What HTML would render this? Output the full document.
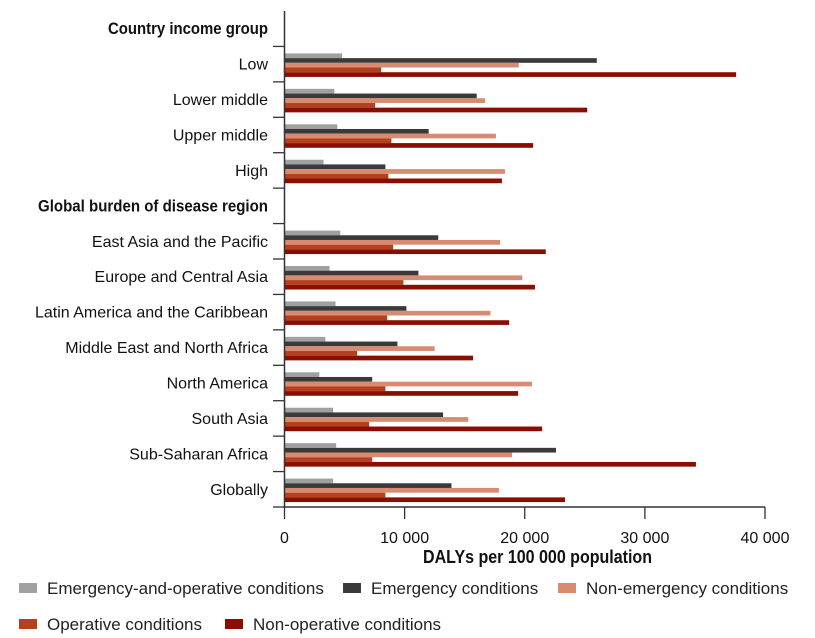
<!DOCTYPE html>
<html><head><meta charset="utf-8"><style>
html,body{margin:0;padding:0;background:#fff;}
svg{display:block;font-family:"Liberation Sans Narrow","Liberation Sans",sans-serif;}
</style></head><body>
<svg id="chart" width="815" height="638" viewBox="0 0 815 638"></svg>
<script>
const categories = ["Country income group","Low","Lower middle","Upper middle","High","Global burden of disease region","East Asia and the Pacific","Europe and Central Asia","Latin America and the Caribbean","Middle East and North Africa","North America","South Asia","Sub-Saharan Africa","Globally"];
const isHeader = [true,false,false,false,false,true,false,false,false,false,false,false,false,false];
const seriesNames = ["Emergency-and-operative conditions","Emergency conditions","Non-emergency conditions","Operative conditions","Non-operative conditions"];
const emergOperative = [null,4800,4150,4400,3250,null,4650,3750,4250,3400,2900,4050,4300,4050];
const emergency = [null,26000,16000,12000,8400,null,12800,11150,10150,9400,7300,13200,22600,13900];
const nonEmergency = [null,19500,16700,17600,18350,null,17950,19800,17150,12500,20600,15300,18950,17850];
const operative = [null,8050,7550,8900,8650,null,9050,9900,8550,6050,8400,7050,7300,8400];
const nonOperative = [null,37600,25200,20700,18100,null,21750,20850,18700,15700,19450,21450,34250,23350];
const xTicks = [0,10000,20000,30000,40000];
const xTickLabels = ["0","10 000","20 000","30 000","40 000"];

const colors = ["#a0a0a0","#3a3a3a","#d98b72","#b5401e","#8b0d00"];
const series = [emergOperative, emergency, nonEmergency, operative, nonOperative];
const NS = "http://www.w3.org/2000/svg";
const svg = document.getElementById("chart");
const x0 = 284.5, x1 = 765, yTop = 11, yAxis = 507;
const rowH = (yAxis - yTop) / categories.length;
const xs = v => x0 + (v / 40000) * (x1 - x0);
const ys = i => yTop + i * rowH;
function mk(tag, attrs, parent) {
  const el = document.createElementNS(NS, tag);
  for (const k in attrs) el.setAttribute(k, attrs[k]);
  (parent || svg).appendChild(el);
  return el;
}
categories.forEach((c, i) => {
  if (isHeader[i]) return;
  series.forEach((s, j) => {
    const r = mk("rect", {x: x0, y: ys(i) + 7 + j * 4.7, width: Math.max(0, xs(s[i]) - x0), height: 4.7, fill: colors[j]});
    
    
  });
});
const ya = mk("line", {x1: x0, y1: yTop, x2: x0, y2: yAxis, stroke: "#333", "stroke-width": 1.5});


for (let i = 1; i <= categories.length; i++) {
  const t = mk("line", {x1: 273, y1: ys(i), x2: x0, y2: ys(i), stroke: "#333", "stroke-width": 1.3});
  
  
}
const headerLen = {0: 160, 5: 230};
categories.forEach((c, i) => {
  const attrs = {x: 268, y: ys(i) + rowH / 2 + 5.5, "text-anchor": "end", "font-size": isHeader[i] ? 17 : 16, "font-weight": isHeader[i] ? "bold" : "normal", fill: "#111"};
  if (isHeader[i]) { attrs.textLength = headerLen[i]; attrs.lengthAdjust = "spacingAndGlyphs"; }
  const t = mk("text", attrs);
  t.textContent = c;
  
  
});
const xa = mk("line", {x1: x0 - 1, y1: yAxis, x2: x1, y2: yAxis, stroke: "#333", "stroke-width": 1.5});


xTicks.forEach((v, k) => {
  const t = mk("line", {x1: xs(v), y1: yAxis, x2: xs(v), y2: yAxis + 12, stroke: "#333", "stroke-width": 1.3});
  
  
  const l = mk("text", {x: xs(v), y: 543, "text-anchor": "middle", "font-size": 16, fill: "#111"});
  l.textContent = xTickLabels[k];
  
  
});
const xt = mk("text", {x: 423, y: 563, "font-size": 18, "font-weight": "bold", fill: "#111", textLength: 229, lengthAdjust: "spacingAndGlyphs"});
xt.textContent = "DALYs per 100 000 population";


const legPos = [[19,588],[343,588],[558,588],[19,624],[225,624]];
seriesNames.forEach((n, j) => {
  const [lx, ly] = legPos[j];
  const g = mk("g", {});
  
  
  mk("rect", {x: lx, y: ly - 5, width: 18, height: 10, fill: colors[j]}, g);
  const t = mk("text", {x: lx + 28, y: ly + 6, "font-size": 17, fill: "#222"}, g);
  t.textContent = n;
});
</script>
</body></html>
